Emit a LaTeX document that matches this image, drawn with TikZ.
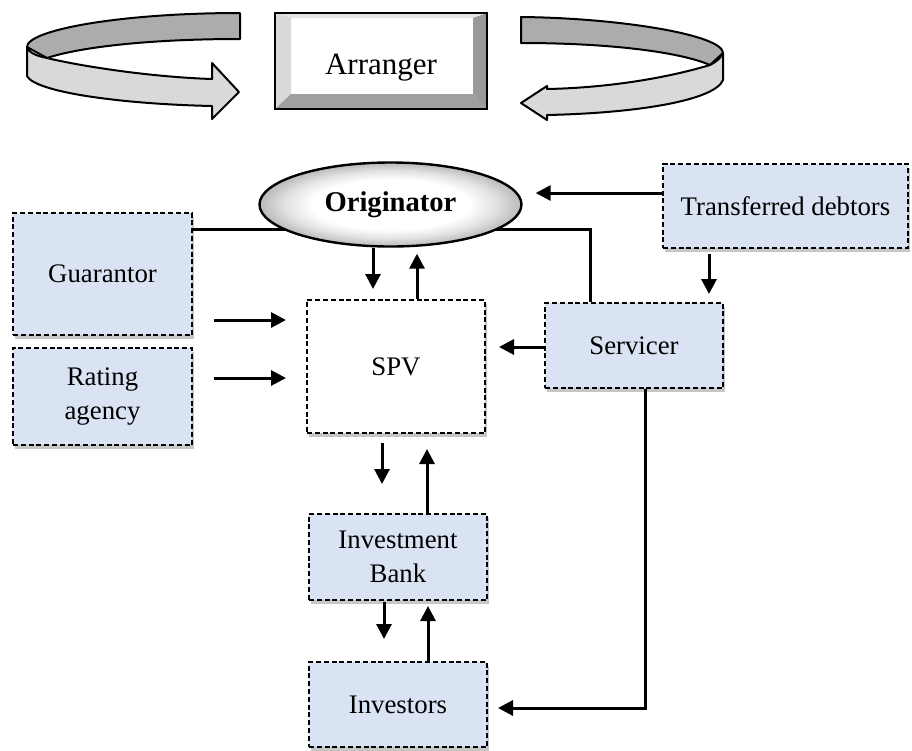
\documentclass[tikz,border=0pt]{standalone}
\usepackage{fontspec}
\setmainfont{Liberation Serif}
\usepackage{tikz}
\usetikzlibrary{shapes,arrows,arrows.meta,shadows}
\definecolor{partyblue}{RGB}{218,227,243}
\pgfdeclareradialshading{glossy}{\pgfpoint{0bp}{0bp}}{color(0bp)=(white); color(15bp)=(white); color(20bp)=(gray!22); color(25bp)=(gray!55); color(50bp)=(gray!55)}
\tikzstyle{party} = [draw=black, fill=partyblue, line width=1pt, dash pattern=on 2.5pt off 1.4pt, rectangle, inner sep=0pt, align=center, font=\fontsize{13.4}{17}\selectfont, drop shadow={shadow xshift=1pt, shadow yshift=-2pt, opacity=0.45}]
\tikzstyle{spvbox} = [party, fill=white]
\tikzstyle{originator} = [ellipse, draw=black, line width=1.2pt, inner sep=0pt, shade, shading=glossy, font=\fontsize{14.3}{17}\selectfont\bfseries, minimum width=131pt, minimum height=42pt]
\tikzstyle{arrbox} = [draw=black, line width=1pt, minimum width=106pt, minimum height=48pt, inner sep=0pt, font=\fontsize{15.5}{17}\selectfont, text height=13pt, text depth=0pt]
\tikzstyle{flow} = [line width=1.5pt, -{Triangle[length=7.5pt,width=7.5pt]}]
\tikzstyle{link} = [line width=1.5pt]
\tikzstyle{backband} = [draw=black, line width=1pt, line join=round, fill=gray!65]
\tikzstyle{frontband} = [draw=black, line width=1pt, line join=round, fill=gray!30]

\begin{document}
\begin{tikzpicture}[x=0.5pt, y=-0.5pt]
	\useasboundingbox (0,0) rectangle (912,751);
	% arranger and the two loops
	\filldraw[backband] (240,13) .. controls (120,13) and (27,30) .. (27,47) -- (47,58) .. controls (80,47) and (150,39) .. (240,39) -- cycle;
	\filldraw[frontband] (27,47) .. controls (29,53) and (37,56) .. (47,58) .. controls (80,66) and (150,77) .. (212,79) -- (212,63) -- (239,92) -- (212,119) -- (212,106) .. controls (120,104) and (35,92) .. (27,76) -- cycle;
	\filldraw[backband] (521,17) .. controls (620,18) and (723,35) .. (723,53) -- (710,65) .. controls (680,52) and (610,43) .. (521,43) -- cycle;
	\filldraw[frontband] (723,53) .. controls (721,58) and (716,62) .. (710,65) .. controls (660,80) and (600,88) .. (547,89) -- (547,86) -- (521,103) -- (547,120) -- (547,115) .. controls (640,113) and (715,100) .. (723,80) -- cycle;
	\fill[gray!20] (275,13) -- (487,13) -- (473,18) -- (291,18) -- cycle;
	\fill[gray!30] (275,13) -- (291,18) -- (291,94) -- (275,109) -- cycle;
	\fill[gray!80] (487,13) -- (473,18) -- (473,94) -- (487,109) -- cycle;
	\fill[gray!75] (275,109) -- (291,94) -- (473,94) -- (487,109) -- cycle;
	\node[arrbox] (arr) at (381,61) {Arranger};

	% parties
	\node[party, minimum width=89.5pt, minimum height=61pt] (guar) at (102.5,274) {Guarantor};
	\node[party, minimum width=89.5pt, minimum height=48.5pt] (rate) at (102.5,396.5) {Rating\\agency};
	\node[spvbox, minimum width=89pt, minimum height=66.5pt] (spv) at (396,366.5) {SPV};
	\node[party, minimum width=89pt, minimum height=42.5pt] (serv) at (634,345.5) {Servicer};
	\node[party, minimum width=122.5pt, minimum height=42pt] (debt) at (785.5,206) {Transferred debtors};
	\node[party, minimum width=89pt, minimum height=43pt] (bank) at (398,557) {Investment\\Bank};
	\node[party, minimum width=89pt, minimum height=42.5pt] (inv) at (398,704.5) {Investors};

	\coordinate (jn) at (590,229);
	\draw[link] (guar.east |- jn) -- (jn) -- (jn |- serv.north);
	\node[originator] (orig) at (390.5,204.5) {Originator};

	% flows
	\draw[flow, shorten <=10.5pt, shorten >=10pt] (guar.east |- 0,320) -- (spv.west |- 0,320);
	\draw[flow, shorten <=10.5pt, shorten >=10pt] (rate.east |- 0,378) -- (spv.west |- 0,378);
	\draw[flow, shorten >=5pt] (373,0 |- orig.south) -- (373,0 |- spv.north);
	\draw[flow, shorten >=3pt] (417,0 |- spv.north) -- (417,0 |- orig.south);
	\draw[flow, shorten >=6.5pt] (serv.west |- 0,347) -- (spv.east |- 0,347);
	\draw[flow, shorten >=6.5pt] (debt.west |- 0,193) -- (orig.east |- 0,193);
	\draw[flow, shorten <=2.5pt, shorten >=4pt] (709,0 |- debt.south) -- (709,0 |- serv.north);
	\draw[flow, shorten <=4.5pt, shorten >=14.5pt] (382,0 |- spv.south) -- (382,0 |- bank.north);
	\draw[flow, shorten >=7.5pt] (427,0 |- bank.north) -- (427,0 |- spv.south);
	\draw[flow, shorten <=0.5pt, shorten >=11pt] (384,0 |- bank.south) -- (384,0 |- inv.north);
	\draw[flow, shorten >=2.5pt] (428,0 |- inv.north) -- (428,0 |- bank.south);
	\coordinate (turn) at (645,708);
	\draw[flow, shorten >=5pt] (turn |- serv.south) -- (turn) -- (inv.east |- turn);
\end{tikzpicture}
\end{document}
